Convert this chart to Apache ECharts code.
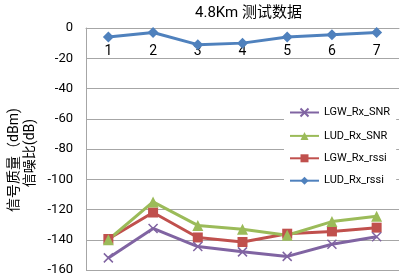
<!DOCTYPE html>
<html>
<head>
<meta charset="utf-8">
<script src="https://cdn.jsdelivr.net/npm/echarts@6.0.0/dist/echarts.min.js"></script>
<style>
  html, body { margin: 0; padding: 0; background: #fff; }
  #chart { width: 401px; height: 279px; }
</style>
</head>
<body>
<div id="chart"></div>
<script>
const categories = ["1", "2", "3", "4", "5", "6", "7"];
const ludRxRssi = [-6, -3, -11, -10, -6, -4.5, -3];
const lgwRxRssi = [-139.5, -122, -138.5, -141.5, -136, -134.5, -132];
const ludRxSnr = [-140, -115, -130.5, -133, -137, -128, -124.5];
const lgwRxSnr = [-152, -132.5, -144.5, -148, -151, -143, -138];
const legendOrder = ["LGW_Rx_SNR", "LUD_Rx_SNR", "LGW_Rx_rssi", "LUD_Rx_rssi"];
const yTitleLines = ["信号质量（dBm)", "信噪比(dB)"];

const FONT = "Roboto, 'Noto Sans CJK SC', sans-serif";
const crossPath = "path://M0,0L10,10M10,0L0,10";

const chart = echarts.init(document.getElementById("chart"));

const mkLine = (name, data, color, symbol, size) => ({
  name,
  type: "line",
  data,
  symbol,
  symbolSize: size,
  lineStyle: { color, width: 3 },
  itemStyle: { color },
  emphasis: { disabled: true },
  animation: false,
});

const option = {
  textStyle: { fontFamily: FONT },
  title: {
    text: "4.8Km 测试数据",
    left: 190,
    top: 1,
    textStyle: { fontSize: 15, fontWeight: "normal", color: "#000", fontFamily: FONT },
  },
  graphic: [
    {
      type: "text", x: 14, y: 160, rotation: Math.PI / 2,
      style: { text: yTitleLines[0], font: "14px " + FONT, fill: "#000", align: "center", verticalAlign: "middle" },
    },
    {
      type: "text", x: 30, y: 153, rotation: Math.PI / 2,
      style: { text: yTitleLines[1], font: "14px " + FONT, fill: "#000", align: "center", verticalAlign: "middle" },
    },
  ],
  grid: { left: 86, right: 2, top: 28, bottom: 9 },
  legend: {
    data: legendOrder,
    orient: "vertical",
    left: 284,
    top: 100,
    padding: [6, 6, 6, 5],
    backgroundColor: "#fff",
    itemWidth: 29,
    itemHeight: 10,
    itemGap: 11.4,
    textStyle: { fontSize: 11, color: "#000", fontFamily: FONT },
  },
  xAxis: {
    type: "category",
    data: categories,
    position: "top",
    axisLine: { show: true, lineStyle: { color: "#a6a6a6", width: 1 } },
    axisTick: { show: false },
    axisLabel: { inside: true, margin: 17, fontSize: 14, color: "#000", fontFamily: FONT },
    splitLine: { show: false },
  },
  yAxis: {
    type: "value",
    min: -160,
    max: 0,
    interval: 20,
    axisLine: { show: true, lineStyle: { color: "#a6a6a6", width: 1 } },
    axisTick: { show: false },
    axisLabel: { margin: 13, fontSize: 13, color: "#000", fontFamily: FONT },
    splitLine: { lineStyle: { color: "#a6a6a6", width: 1 } },
  },
  series: [
    mkLine("LUD_Rx_rssi", ludRxRssi, "#4F81BD", "diamond", 11),
    mkLine("LGW_Rx_rssi", lgwRxRssi, "#C0504D", "rect", 10),
    mkLine("LUD_Rx_SNR", ludRxSnr, "#9BBB59", "triangle", 11),
    Object.assign(mkLine("LGW_Rx_SNR", lgwRxSnr, "#8064A2", crossPath, 9), {
      itemStyle: { color: "none", borderColor: "#8064A2", borderWidth: 1.5 },
    }),
  ],
};

chart.setOption(option);
</script>
</body>
</html>
